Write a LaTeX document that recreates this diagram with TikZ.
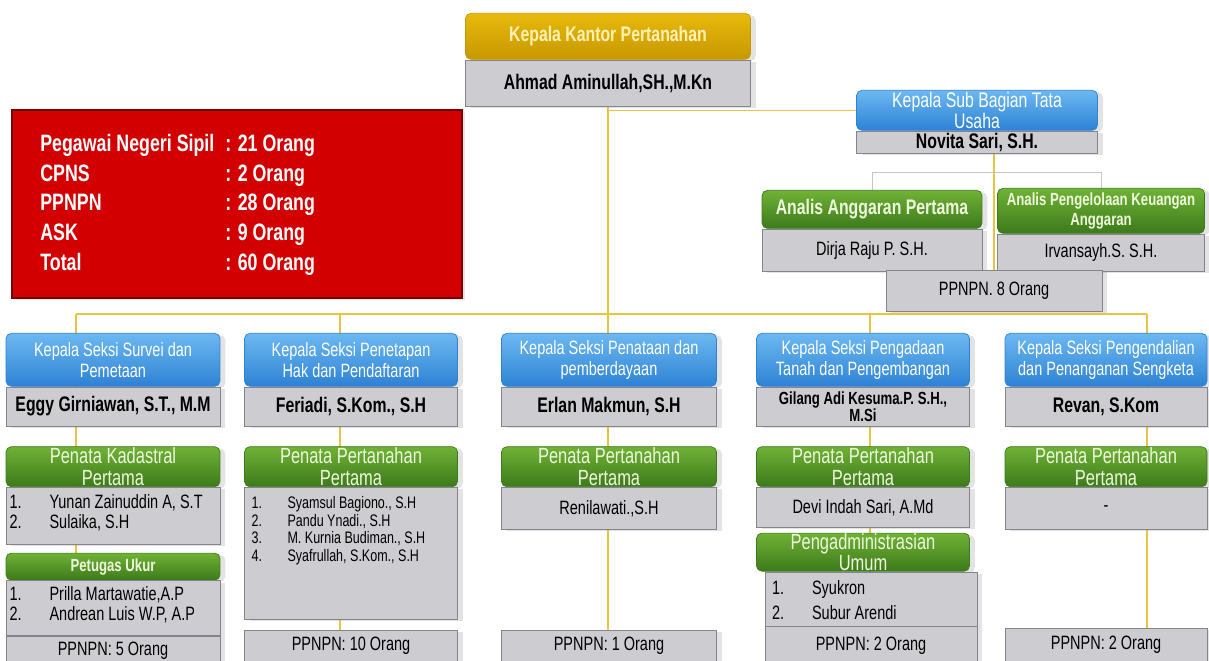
\documentclass[tikz,border=0pt]{standalone}
\usepackage{fontspec}
\setmainfont{Liberation Sans}[FakeStretch=0.75]
\usepackage{tikz}
\usetikzlibrary{positioning,shadows,backgrounds}

\definecolor{goldTop}{HTML}{E8B90C}
\definecolor{goldBot}{HTML}{C79800}
\definecolor{goldText}{HTML}{FFF1B4}
\definecolor{blueTop}{HTML}{6CB8F2}
\definecolor{blueBot}{HTML}{2E82D4}
\definecolor{greenTop}{HTML}{6FB236}
\definecolor{greenBot}{HTML}{3D7A1B}
\definecolor{greenText}{HTML}{EEF8DC}
\definecolor{grayBox}{HTML}{CDCDD1}
\definecolor{grayLine}{HTML}{84848C}
\definecolor{redBox}{HTML}{D20000}
\definecolor{redLine}{HTML}{780000}
\definecolor{linkYellow}{HTML}{E8C440}

\begin{document}
\begin{tikzpicture}[x=0.02cm, y=-0.02cm]
\tikzstyle{boxbase} = [rectangle, inner sep=0pt, align=center, drop shadow={shadow xshift=3pt, shadow yshift=-1pt, opacity=0.22}]
\tikzstyle{kepala} = [boxbase, draw=goldBot, top color=goldTop, bottom color=goldBot, rounded corners=3pt, text=goldText, font=\fontsize{12}{13}\selectfont\bfseries, minimum width=5.7cm, minimum height=0.92cm]
\tikzstyle{seksi} = [boxbase, draw=blueBot, top color=blueTop, bottom color=blueBot, rounded corners=3pt, text=white, font=\fontsize{11}{12}\selectfont, minimum height=1.06cm]
\tikzstyle{staf} = [boxbase, draw=greenBot, top color=greenTop, bottom color=greenBot, rounded corners=3pt, text=greenText, font=\fontsize{12.5}{12.5}\selectfont, minimum height=0.8cm]
\tikzstyle{nama} = [boxbase, draw=grayLine, fill=grayBox, font=\fontsize{12}{12}\selectfont\bfseries, minimum height=0.78cm]
\tikzstyle{isi} = [boxbase, draw=grayLine, fill=grayBox, font=\fontsize{11}{12}\selectfont]
\tikzstyle{daftar} = [inner sep=0pt, anchor=north west, align=left, font=\fontsize{11}{11.5}\selectfont]
\tikzstyle{merah} = [rectangle, draw=redLine, line width=1.2pt, fill=redBox, drop shadow={shadow xshift=2pt, shadow yshift=-1pt, opacity=0.2}]
\tikzstyle{rekap} = [inner sep=0pt, align=left, text=white, font=\fontsize{13.5}{17}\selectfont\bfseries]
\tikzstyle{link} = [draw=linkYellow, line width=0.8pt]
\tikzstyle{cabang} = [draw=gray!45, line width=0.5pt]

\useasboundingbox (0,0) rectangle (1209,661);

% Kepala kantor
\node [kepala, anchor=north] (KAKAN) at (608,13) {Kepala Kantor Pertanahan};
\node [nama, minimum width=5.7cm, minimum height=0.92cm, below=0pt of KAKAN] (KAKAN_nama) {Ahmad Aminullah,SH.,M.Kn};

% Rekap jumlah pegawai
\node [merah, minimum width=9cm, minimum height=3.76cm] (REKAP) at (237,204) {};
\node [rekap, anchor=west] (REKAP_isi) at (40,205) {\begin{tabular}{@{}p{3.7cm}@{}l@{}}
Pegawai Negeri Sipil & : 21 Orang\\
CPNS & : 2 Orang\\
PPNPN & : 28 Orang\\
ASK & : 9 Orang\\
Total & : 60 Orang
\end{tabular}};

% Sub bagian tata usaha
\node [seksi, anchor=north, minimum width=4.82cm, minimum height=0.8cm, font=\fontsize{12}{12}\selectfont] (TU) at (977,90) {Kepala Sub Bagian Tata\\Usaha};
\node [nama, minimum width=4.82cm, minimum height=0.44cm, below=0pt of TU] (TU_nama) {Novita Sari, S.H.};
\node [staf, anchor=north, minimum width=4.4cm, minimum height=0.76cm, font=\fontsize{12}{12}\selectfont\bfseries] (ANGG) at (872,190) {Analis Anggaran Pertama};
\node [isi, minimum width=4.4cm, minimum height=0.84cm, below=0pt of ANGG] (ANGG_isi) {Dirja Raju P. S.H.};
\node [staf, anchor=north, minimum width=4.14cm, minimum height=0.9cm, font=\fontsize{10}{11}\selectfont\bfseries] (KEU) at (1101,188) {Analis Pengelolaan Keuangan\\Anggaran};
\node [isi, minimum width=4.14cm, minimum height=0.74cm, below=0pt of KEU] (KEU_isi) {Irvansayh.S. S.H.};
\node [isi, anchor=north, minimum width=4.32cm, minimum height=0.82cm] (TU_ppnpn) at (994,270) {PPNPN. 8 Orang};

% Seksi survei dan pemetaan
\node [seksi, anchor=north, minimum width=4.28cm] (SURVEI) at (113,333) {Kepala Seksi Survei dan\\Pemetaan};
\node [nama, minimum width=4.28cm, below=0pt of SURVEI] (SURVEI_nama) {Eggy Girniawan, S.T., M.M};
\node [staf, minimum width=4.28cm, below=0.4cm of SURVEI_nama] (SURVEI_staf) {Penata Kadastral\\Pertama};
\node [isi, minimum width=4.28cm, minimum height=1.14cm, below=0pt of SURVEI_staf] (SURVEI_isi) {};
\node [daftar] (SURVEI_daftar) at ([xshift=2pt, yshift=-4pt]SURVEI_isi.north west) {\begin{tabular}{@{}p{0.8cm}@{}l@{}}
1. & Yunan Zainuddin A, S.T\\
2. & Sulaika, S.H
\end{tabular}};
\node [staf, minimum width=4.28cm, minimum height=0.54cm, below=0.16cm of SURVEI_isi, font=\fontsize{10}{11}\selectfont\bfseries] (UKUR) {Petugas Ukur};
\node [isi, minimum width=4.28cm, minimum height=1.1cm, below=0pt of UKUR] (UKUR_isi) {};
\node [daftar] (UKUR_daftar) at ([xshift=2pt, yshift=-3pt]UKUR_isi.north west) {\begin{tabular}{@{}p{0.8cm}@{}l@{}}
1. & Prilla Martawatie,A.P\\
2. & Andrean Luis W.P, A.P
\end{tabular}};
\node [isi, minimum width=4.28cm, minimum height=0.58cm, below=0pt of UKUR_isi] (SURVEI_ppnpn) {PPNPN: 5 Orang};

% Seksi penetapan hak dan pendaftaran
\node [seksi, anchor=north, minimum width=4.26cm] (HAK) at (351,333) {Kepala Seksi Penetapan\\Hak dan Pendaftaran};
\node [nama, minimum width=4.26cm, below=0pt of HAK] (HAK_nama) {Feriadi, S.Kom., S.H};
\node [staf, minimum width=4.26cm, below=0.4cm of HAK_nama] (HAK_staf) {Penata Pertanahan\\Pertama};
\node [isi, minimum width=4.26cm, minimum height=2.64cm, below=0pt of HAK_staf] (HAK_isi) {};
\node [daftar, font=\fontsize{9.5}{10}\selectfont] (HAK_daftar) at ([xshift=4pt, yshift=-5pt]HAK_isi.north west) {\begin{tabular}{@{}p{0.72cm}@{}l@{}}
1. & Syamsul Bagiono., S.H\\
2. & Pandu Ynadi., S.H\\
3. & M. Kurnia Budiman., S.H\\
4. & Syafrullah, S.Kom., S.H
\end{tabular}};
\node [isi, anchor=north, minimum width=4.26cm, minimum height=0.62cm] (HAK_ppnpn) at (351,630) {PPNPN: 10 Orang};

% Seksi penataan dan pemberdayaan
\node [seksi, anchor=north, minimum width=4.3cm] (TATA) at (609,333) {Kepala Seksi Penataan dan\\pemberdayaan};
\node [nama, minimum width=4.3cm, below=0pt of TATA] (TATA_nama) {Erlan Makmun, S.H};
\node [staf, minimum width=4.3cm, below=0.4cm of TATA_nama] (TATA_staf) {Penata Pertanahan\\Pertama};
\node [isi, minimum width=4.3cm, minimum height=0.84cm, below=0pt of TATA_staf] (TATA_isi) {Renilawati.,S.H};
\node [isi, anchor=north, minimum width=4.3cm, minimum height=0.62cm] (TATA_ppnpn) at (609,630) {PPNPN: 1 Orang};

% Seksi pengadaan tanah dan pengembangan
\node [seksi, anchor=north, minimum width=4.26cm] (ADA) at (863,333) {Kepala Seksi Pengadaan\\Tanah dan Pengembangan};
\node [nama, minimum width=4.26cm, below=0pt of ADA, font=\fontsize{10}{10}\selectfont\bfseries] (ADA_nama) {Gilang Adi Kesuma.P. S.H.,\\M.Si};
\node [staf, minimum width=4.26cm, below=0.4cm of ADA_nama] (ADA_staf) {Penata Pertanahan\\Pertama};
\node [isi, minimum width=4.26cm, minimum height=0.8cm, below=0pt of ADA_staf] (ADA_isi) {Devi Indah Sari, A.Md};
\node [staf, minimum width=4.26cm, minimum height=0.76cm, below=0.1cm of ADA_isi] (UMUM) {Pengadministrasian\\Umum};
\node [isi, minimum width=4.24cm, minimum height=1.08cm, below=0pt of UMUM, xshift=0.16cm] (UMUM_isi) {};
\node [daftar, font=\fontsize{11}{14}\selectfont] (UMUM_daftar) at ([xshift=4pt, yshift=-3pt]UMUM_isi.north west) {\begin{tabular}{@{}p{0.8cm}@{}l@{}}
1. & Syukron\\
2. & Subur Arendi
\end{tabular}};
\node [isi, minimum width=4.24cm, minimum height=0.78cm, below=0pt of UMUM_isi] (ADA_ppnpn) {PPNPN: 2 Orang};

% Seksi pengendalian dan penanganan sengketa
\node [seksi, anchor=north, minimum width=4.04cm] (SENGKETA) at (1106,333) {Kepala Seksi Pengendalian\\dan Penanganan Sengketa};
\node [nama, minimum width=4.04cm, below=0pt of SENGKETA] (SENGKETA_nama) {Revan, S.Kom};
\node [staf, minimum width=4.04cm, below=0.4cm of SENGKETA_nama] (SENGKETA_staf) {Penata Pertanahan\\Pertama};
\node [isi, minimum width=4.04cm, minimum height=0.84cm, below=0pt of SENGKETA_staf] (SENGKETA_isi) {-};
\node [isi, anchor=north, minimum width=4.04cm, minimum height=0.66cm] (SENGKETA_ppnpn) at (1106,628) {PPNPN: 2 Orang};

% Garis hubung
\begin{pgfonlayer}{background}
\coordinate (J1) at (76,314);
\coordinate (J2) at (340,314);
\coordinate (J3) at (608,314);
\coordinate (J4) at (870,314);
\coordinate (J5) at (1147,314);
\draw [link] (J1) -- (J5);
\draw [link] (KAKAN_nama.south) -- (J3);
\draw [link] (KAKAN_nama.south |- TU.west) -- (TU.west);
\draw [link] (TU_ppnpn.north |- TU_nama.south) -- (TU_ppnpn.north);
\draw [cabang] (ANGG.north) -- ++(0,-18) -| (KEU.north);
\draw [link] (J1) -- (J1 |- SURVEI_ppnpn.north);
\draw [link] (J2) -- (J2 |- HAK_ppnpn.north);
\draw [link] (J3) -- (J3 |- TATA_ppnpn.north);
\draw [link] (J4) -- (J4 |- ADA_ppnpn.north);
\draw [link] (J5) -- (J5 |- SENGKETA_ppnpn.north);
\end{pgfonlayer}

\end{tikzpicture}
\end{document}
